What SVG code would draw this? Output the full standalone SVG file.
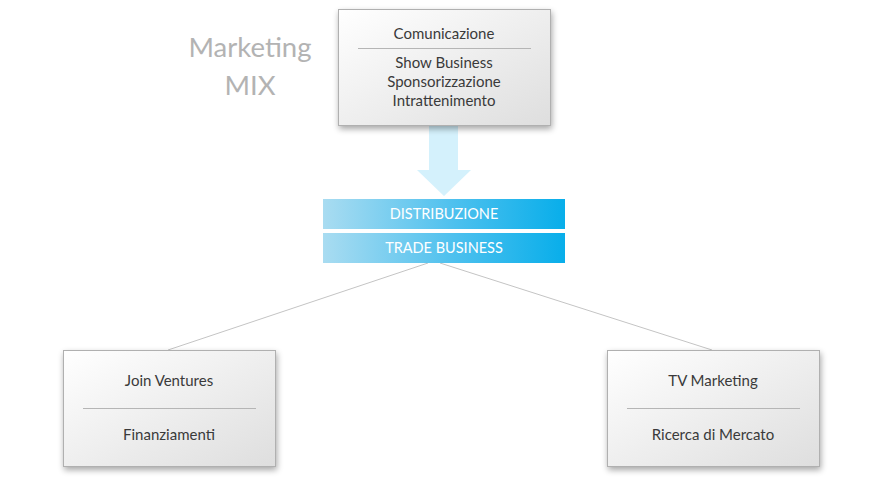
<svg xmlns="http://www.w3.org/2000/svg" width="880" height="487" viewBox="0 0 880 487">
<defs>
<linearGradient id="boxg" x1="0" y1="0" x2="1" y2="1">
<stop offset="0" stop-color="#ffffff"/>
<stop offset="1" stop-color="#dedede"/>
</linearGradient>
<linearGradient id="blueg" x1="0" y1="0" x2="1" y2="0">
<stop offset="0" stop-color="#a9dcf1"/>
<stop offset="0.55" stop-color="#4cc0ee"/>
<stop offset="1" stop-color="#08aeea"/>
</linearGradient>
<filter id="sh" x="-10%" y="-10%" width="125%" height="130%">
<feGaussianBlur in="SourceAlpha" stdDeviation="3"/>
<feOffset dx="1" dy="3"/>
<feComponentTransfer><feFuncA type="linear" slope="0.35"/></feComponentTransfer>
<feMerge><feMergeNode/><feMergeNode in="SourceGraphic"/></feMerge>
</filter>
</defs>
<style>
.box{fill:url(#boxg);stroke:#b0b0b0;stroke-width:1}
.div{stroke:#b5b5b5;stroke-width:1}
.t{font-family:"Lato","Open Sans",sans-serif;font-size:15px;fill:#3a3a3a;text-anchor:middle}
.bt{font-family:"Lato","Open Sans",sans-serif;font-size:14.5px;fill:#ffffff;text-anchor:middle}
.title{font-family:"Lato","Open Sans",sans-serif;font-size:27.5px;fill:#b3b3b3;text-anchor:middle}
.conn{stroke:#c4c4c4;stroke-width:1;fill:none}
</style>
<rect width="880" height="487" fill="#ffffff"/>
<g id="title">
<text class="title" x="250" y="57">Marketing</text>
<text class="title" x="250" y="95">MIX</text>
</g>
<g id="connectors">
<path class="conn" d="M428,263 L168,350"/>
<path class="conn" d="M440,263 L712,350"/>
<polygon points="429,125 458,125 458,170 471,170 444,196 417,170 429,170" fill="#d4f1fc"/>
</g>
<g id="comunicazione">
<rect class="box" x="338.5" y="9.5" width="212" height="116" filter="url(#sh)"/>
<text class="t" x="444" y="39">Comunicazione</text>
<line class="div" x1="358" y1="48.5" x2="531" y2="48.5"/>
<text class="t" x="444" y="68">Show Business</text>
<text class="t" x="444" y="87">Sponsorizzazione</text>
<text class="t" x="444" y="106">Intrattenimento</text>
</g>
<g id="distribuzione">
<rect x="323" y="199" width="242" height="30" fill="url(#blueg)"/>
<text class="bt" x="444" y="219">DISTRIBUZIONE</text>
</g>
<g id="trade">
<rect x="323" y="233" width="242" height="30" fill="url(#blueg)"/>
<text class="bt" x="444" y="253">TRADE BUSINESS</text>
</g>
<g id="join">
<rect class="box" x="63.5" y="350.5" width="212" height="116" filter="url(#sh)"/>
<text class="t" x="169" y="386">Join Ventures</text>
<line class="div" x1="83" y1="408.5" x2="256" y2="408.5"/>
<text class="t" x="169" y="440">Finanziamenti</text>
</g>
<g id="tv">
<rect class="box" x="607.5" y="350.5" width="212" height="116" filter="url(#sh)"/>
<text class="t" x="713" y="386">TV Marketing</text>
<line class="div" x1="627" y1="408.5" x2="800" y2="408.5"/>
<text class="t" x="713" y="440">Ricerca di Mercato</text>
</g>
</svg>
